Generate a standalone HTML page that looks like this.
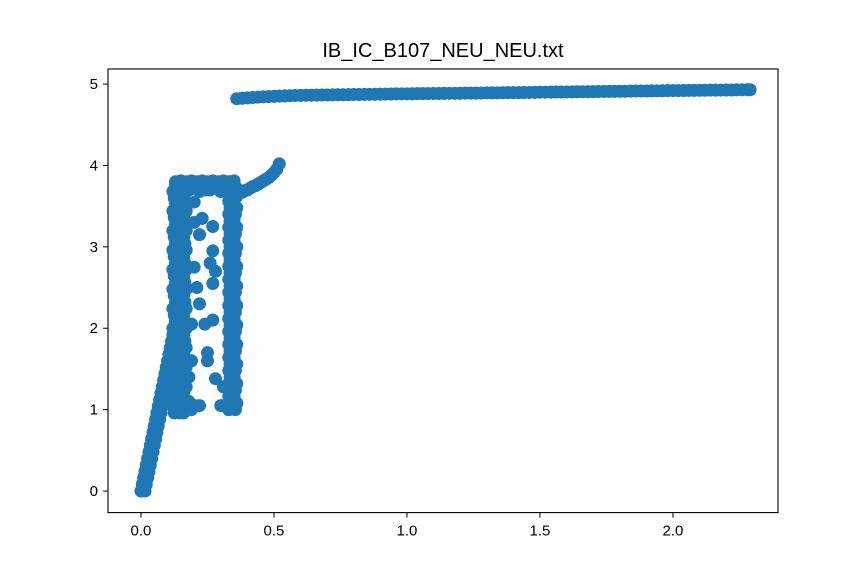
<!DOCTYPE html>
<html><head><meta charset="utf-8"><style>
body{margin:0;background:#fff}
svg{display:block;font-family:"Liberation Sans","DejaVu Sans",sans-serif}
</style></head><body>
<svg id="chart" width="864" height="576">
<rect width="864" height="576" fill="#fff"/>
<text x="443" y="57" text-anchor="middle" font-size="20" fill="#000">IB_IC_B107_NEU_NEU.txt</text>
<g id="marks"></g>
<rect x="108" y="69" width="670" height="443.6" fill="none" stroke="#000" stroke-width="1.1"/>
<g id="xticks"></g>
<g id="yticks"></g>
</svg>
<script>
const xTicks=[0.0,0.5,1.0,1.5,2.0];
const xTickLabels=["0.0","0.5","1.0","1.5","2.0"];
const yTicks=[0,1,2,3,4,5];
const yTickLabels=["0","1","2","3","4","5"];
// rising streak
const streakX=[0,0.005,0.01,0.015,0.02,0.025,0.03,0.035,0.04,0.045,0.05,0.055,0.06,0.065,0.07,0.075,0.08,0.085,0.09,0.095,0.1,0.105,0.11,0.115,0.12,0.125,0.13,
0.015,0.02,0.025,0.03,0.035,0.04,0.045,0.05,0.055,0.06,0.065,0.07,0.075,0.08,0.085,0.09,0.095,0.1];
const streakY=[0,0.08,0.16,0.24,0.32,0.4,0.48,0.56,0.64,0.72,0.8,0.88,0.96,1.04,1.12,1.2,1.28,1.36,1.44,1.52,1.6,1.68,1.76,1.84,1.92,2.0,2.08,
0,0.08,0.16,0.24,0.32,0.4,0.48,0.56,0.64,0.72,0.8,0.88,0.96,1.04,1.12,1.2,1.28,1.36];
// left column
const leftY=[0.96,1.04,1.12,1.2,1.28,1.36,1.44,1.52,1.6,1.68,1.76,1.84,1.92,2.0,2.08,2.16,2.24,2.32,2.4,2.48,2.56,2.64,2.72,2.8,2.88,2.96,3.04,3.12,3.2,3.28,3.36,3.44,3.52,3.6,3.68,3.76];
const leftXa=[0.125,0.12,0.13,0.125,0.12,0.13,0.125,0.12,0.13,0.125,0.12,0.13,0.125,0.12,0.13,0.125,0.12,0.13,0.125,0.12,0.13,0.125,0.12,0.13,0.125,0.12,0.13,0.125,0.12,0.13,0.125,0.12,0.13,0.125,0.12,0.13];
const leftXb=[0.16,0.17,0.165,0.16,0.17,0.165,0.16,0.17,0.165,0.16,0.17,0.165,0.16,0.17,0.165,0.16,0.17,0.165,0.16,0.17,0.165,0.16,0.17,0.165,0.16,0.17,0.165,0.16,0.17,0.165,0.16,0.17,0.165,0.16,0.17,0.165];
const leftXc=[0.145,0.14,0.15,0.145,0.14,0.15,0.145,0.14,0.15,0.145,0.14,0.15,0.145,0.14,0.15,0.145,0.14,0.15,0.145,0.14,0.15,0.145,0.14,0.15,0.145,0.14,0.15,0.145,0.14,0.15,0.145,0.14,0.15,0.145,0.14,0.15];
// right column
const rightY=[1.0,1.08,1.16,1.24,1.32,1.4,1.48,1.56,1.64,1.72,1.8,1.88,1.96,2.04,2.12,2.2,2.28,2.36,2.44,2.52,2.6,2.68,2.76,2.84,2.92,3.0,3.08,3.16,3.24,3.32,3.4,3.48,3.56,3.64,3.72,3.8];
const rightXa=[0.33,0.335,0.33,0.335,0.33,0.335,0.33,0.335,0.33,0.335,0.33,0.335,0.33,0.335,0.33,0.335,0.33,0.335,0.33,0.335,0.33,0.335,0.33,0.335,0.33,0.335,0.33,0.335,0.33,0.335,0.33,0.335,0.33,0.335,0.33,0.335];
const rightXb=[0.355,0.36,0.35,0.355,0.36,0.35,0.355,0.36,0.35,0.355,0.36,0.35,0.355,0.36,0.35,0.355,0.36,0.35,0.355,0.36,0.35,0.355,0.36,0.35,0.355,0.36,0.35,0.355,0.36,0.35,0.355,0.36,0.35,0.355,0.36,0.35];
// top band
const bandX=[0.13,0.15,0.17,0.19,0.21,0.23,0.25,0.27,0.29,0.31,0.33,0.35,0.14,0.16,0.18,0.2,0.22,0.24,0.26,0.28,0.3,0.32,0.34,0.36];
const bandY=[3.8,3.81,3.8,3.81,3.8,3.81,3.8,3.81,3.8,3.81,3.8,3.81,3.7,3.68,3.7,3.72,3.68,3.7,3.7,3.72,3.68,3.7,3.66,3.62];
// scattered points
const scatX=[0.2,0.22,0.27,0.27,0.26,0.28,0.27,0.2,0.22,0.24,0.27,0.25,0.25,0.28,0.31,0.2,0.22,0.3,0.36,0.18,0.19,0.33,0.21,0.19,0.23,0.2,0.19,0.18];
const scatY=[3.3,3.15,3.25,2.95,2.8,2.7,2.55,2.75,2.3,2.05,2.1,1.7,1.6,1.38,1.28,1.05,1.05,1.05,1.08,1.1,1.0,1.0,2.5,2.05,3.35,3.55,1.6,1.4];
// rising curve to 4
const riseX=[0.35,0.36,0.37,0.38,0.39,0.4,0.41,0.42,0.43,0.44,0.45,0.46,0.47,0.48,0.49,0.5,0.51,0.52];
const riseY=[3.62,3.64,3.66,3.67,3.69,3.7,3.72,3.74,3.75,3.77,3.79,3.81,3.83,3.85,3.88,3.91,3.95,4.02];
// top curve
const topX=[0.36,0.38,0.4,0.42,0.44,0.46,0.48,0.5,0.52,0.54,0.56,0.58,0.6,0.62,0.64,0.66,0.68,0.7,0.72,0.74,0.76,0.78,0.8,0.82,0.84,0.86,0.88,0.9,0.92,0.94,0.96,0.98,1.0,1.02,1.04,1.06,1.08,1.1,1.12,1.14,1.16,1.18,1.2,1.22,1.24,1.26,1.28,1.3,1.32,1.34,1.36,1.38,1.4,1.42,1.44,1.46,1.48,1.5,1.52,1.54,1.56,1.58,1.6,1.62,1.64,1.66,1.68,1.7,1.72,1.74,1.76,1.78,1.8,1.82,1.84,1.86,1.88,1.9,1.92,1.94,1.96,1.98,2.0,2.02,2.04,2.06,2.08,2.1,2.12,2.14,2.16,2.18,2.2,2.22,2.24,2.26,2.28,2.29];
const topY=[4.82,4.825,4.83,4.835,4.84,4.843,4.846,4.849,4.852,4.855,4.857,4.86,4.861,4.862,4.863,4.864,4.865,4.866,4.867,4.868,4.869,4.87,4.871,4.872,4.873,4.874,4.875,4.876,4.877,4.878,4.879,4.88,4.88,4.881,4.882,4.882,4.883,4.884,4.884,4.885,4.886,4.886,4.887,4.888,4.889,4.889,4.89,4.891,4.892,4.892,4.893,4.894,4.895,4.895,4.896,4.897,4.898,4.9,4.9,4.901,4.902,4.902,4.903,4.904,4.905,4.906,4.906,4.907,4.908,4.909,4.91,4.91,4.911,4.912,4.913,4.914,4.914,4.915,4.916,4.917,4.918,4.919,4.92,4.92,4.921,4.922,4.922,4.923,4.924,4.925,4.925,4.926,4.927,4.927,4.928,4.929,4.93,4.93];
const X0=-0.124,X1=2.395,Y0=-0.265,Y1=5.185;
const L=108,R=778,T=69,B=512.6;
const sx=v=>L+(v-X0)/(X1-X0)*(R-L);
const sy=v=>B-(v-Y0)/(Y1-Y0)*(B-T);
const NS="http://www.w3.org/2000/svg";
const marks=document.getElementById('marks');
const series=[[streakX,streakY],[leftXa,leftY],[leftXb,leftY],[leftXc,leftY],[rightXa,rightY],[rightXb,rightY],[bandX,bandY],[scatX,scatY],[riseX,riseY],[topX,topY]];
series.forEach(([xs,ys])=>{
  for(let i=0;i<xs.length;i++){
    const c=document.createElementNS(NS,'circle');
    c.setAttribute('cx',sx(xs[i]));c.setAttribute('cy',sy(ys[i]));c.setAttribute('r',6.5);
    c.setAttribute('fill','#1f77b4');
    
    
    marks.appendChild(c);
  }
});
const xg=document.getElementById('xticks');
xTicks.forEach((v,i)=>{
  const l=document.createElementNS(NS,'line');
  l.setAttribute('x1',sx(v));l.setAttribute('x2',sx(v));l.setAttribute('y1',B);l.setAttribute('y2',B+5);
  l.setAttribute('stroke','#000');
  
  
  xg.appendChild(l);
  const t=document.createElementNS(NS,'text');
  t.setAttribute('x',sx(v));t.setAttribute('y',B+23);t.setAttribute('text-anchor','middle');t.setAttribute('font-size','15');
  t.textContent=xTickLabels[i];
  
  
  xg.appendChild(t);
});
const yg=document.getElementById('yticks');
yTicks.forEach((v,i)=>{
  const l=document.createElementNS(NS,'line');
  l.setAttribute('x1',L-5);l.setAttribute('x2',L);l.setAttribute('y1',sy(v));l.setAttribute('y2',sy(v));
  l.setAttribute('stroke','#000');
  
  
  yg.appendChild(l);
  const t=document.createElementNS(NS,'text');
  t.setAttribute('x',L-10);t.setAttribute('y',sy(v)+5);t.setAttribute('text-anchor','end');t.setAttribute('font-size','15');
  t.textContent=yTickLabels[i];
  
  
  yg.appendChild(t);
});
</script>
</body></html>
